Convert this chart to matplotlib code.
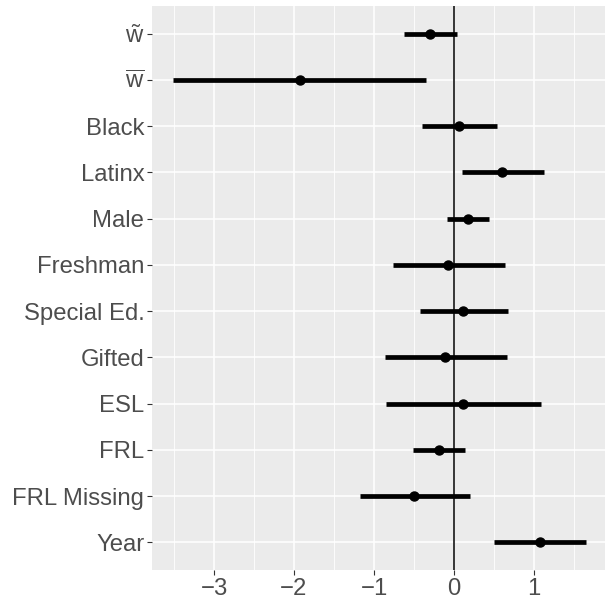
import numpy as np
import matplotlib
matplotlib.use("Agg")
import matplotlib.pyplot as plt

plt.rcParams['font.family'] = ['Liberation Sans', 'DejaVu Sans']
plt.rcParams['mathtext.fontset'] = 'custom'
plt.rcParams['mathtext.rm'] = 'Liberation Sans'

# rows top to bottom
terms = [r'$\mathrm{\tilde{w}}$', r'$\mathrm{\overline{w}}$', 'Black', 'Latinx', 'Male',
         'Freshman', 'Special Ed.', 'Gifted', 'ESL', 'FRL', 'FRL Missing', 'Year']
est = [-0.30, -1.93, 0.06, 0.60, 0.17, -0.07, 0.11, -0.11, 0.11, -0.19, -0.50, 1.07]
lo = [-0.625, -3.51, -0.40, 0.10, -0.09, -0.76, -0.425, -0.86, -0.85, -0.51, -1.175, 0.50]
hi = [0.035, -0.35, 0.535, 1.125, 0.435, 0.635, 0.67, 0.665, 1.085, 0.14, 0.195, 1.65]

fig = plt.figure(figsize=(6.05, 6.0), dpi=100)
ax = fig.add_axes([152/605, 30/600, 453/605, 564/600])
ax.set_facecolor('#EBEBEB')

y = np.arange(len(terms))[::-1] + 1

# grid
for v in np.arange(-3.5, 2.0, 1.0):
    ax.axvline(v, color='white', lw=0.6, zorder=0)
for v in np.arange(-3, 2, 1):
    ax.axvline(v, color='white', lw=1.1, zorder=0)
for v in y:
    ax.axhline(v, color='white', lw=1.1, zorder=0)

ax.axvline(0, color='black', lw=1.1, zorder=1)
ax.hlines(y, lo, hi, color='black', lw=3.4, zorder=2)
ax.plot(est, y, 'o', color='black', ms=6.5, zorder=3)

ax.set_xlim(-3.775, 1.8875)
ax.set_ylim(0.4, len(terms) + 0.6)
ax.set_yticks(y)
ax.set_yticklabels(terms)
ax.set_xticks([-3, -2, -1, 0, 1])
ax.set_xticklabels(['\u22123', '\u22122', '\u22121', '0', '1'])
ax.tick_params(colors='#333333', labelcolor='#4D4D4D', labelsize=17.2, length=3.5, width=0.8, pad=2)
for s in ax.spines.values():
    s.set_visible(False)

fig.savefig('out.png', dpi=100)
